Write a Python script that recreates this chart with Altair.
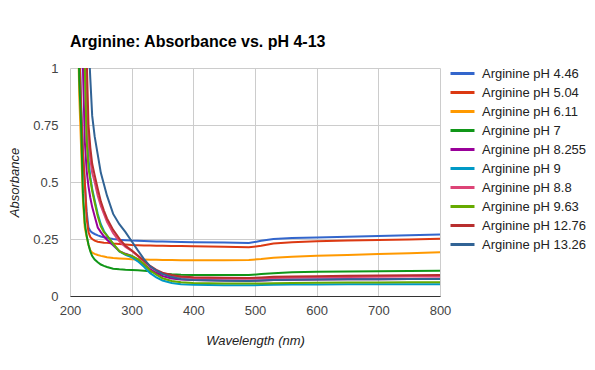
import altair as alt
import pandas as pd

wavelength = [210, 215, 218, 221, 224, 227, 230, 233, 236, 240, 245, 250, 255, 260,
              270, 280, 290, 300, 310, 320, 330, 340, 350, 365, 380, 400, 450, 490,
              510, 530, 560, 600, 650, 700, 750, 800]

series_names = ["Arginine pH 4.46", "Arginine pH 5.04", "Arginine pH 6.11", "Arginine pH 7",
                "Arginine pH 8.255", "Arginine pH 9", "Arginine pH 8.8", "Arginine pH 9.63",
                "Arginine pH 12.76", "Arginine pH 13.26"]

ph_4_46 = [2.1, 1.15, 0.85, 0.64, 0.5, 0.37, 0.3, 0.285, 0.278, 0.272, 0.266, 0.261, 0.258, 0.255,
           0.25, 0.247, 0.245, 0.243, 0.242, 0.241, 0.24, 0.239, 0.239, 0.238, 0.237, 0.236, 0.235, 0.232,
           0.242, 0.25, 0.254, 0.257, 0.26, 0.263, 0.266, 0.27]
ph_5_04 = [2.0, 1.1, 0.82, 0.62, 0.5, 0.34, 0.28, 0.258, 0.25, 0.243, 0.238, 0.236, 0.234, 0.233,
           0.23, 0.228, 0.226, 0.224, 0.223, 0.222, 0.221, 0.22, 0.22, 0.219, 0.219, 0.218, 0.216, 0.214,
           0.22, 0.23, 0.236, 0.24, 0.243, 0.246, 0.248, 0.251]
ph_6_11 = [1.6, 0.88, 0.65, 0.42, 0.3, 0.26, 0.225, 0.2, 0.19, 0.185, 0.18, 0.176, 0.173, 0.17,
           0.167, 0.165, 0.163, 0.161, 0.16, 0.16, 0.159, 0.159, 0.158, 0.158, 0.157, 0.157, 0.157, 0.158,
           0.162, 0.168, 0.172, 0.176, 0.18, 0.184, 0.188, 0.192]
ph_7 = [1.7, 0.95, 0.75, 0.45, 0.32, 0.265, 0.225, 0.195, 0.175, 0.16, 0.148, 0.138, 0.132, 0.127,
        0.12, 0.117, 0.115, 0.114, 0.113, 0.111, 0.108, 0.102, 0.098, 0.095, 0.093, 0.092, 0.092, 0.092,
        0.096, 0.1, 0.104, 0.106, 0.108, 0.109, 0.11, 0.111]
ph_8_255 = [3.0, 2.0, 1.4, 1.0, 0.68, 0.55, 0.48, 0.43, 0.39, 0.35, 0.3, 0.28, 0.262, 0.247,
            0.222, 0.197, 0.185, 0.176, 0.16, 0.138, 0.118, 0.1, 0.088, 0.077, 0.072, 0.07, 0.068, 0.067,
            0.068, 0.07, 0.071, 0.072, 0.073, 0.074, 0.075, 0.076]
ph_9 = [3.2, 2.3, 1.7, 1.3, 1.05, 0.75, 0.6, 0.52, 0.47, 0.42, 0.36, 0.315, 0.285, 0.265,
        0.228, 0.195, 0.18, 0.17, 0.152, 0.128, 0.1, 0.082, 0.068, 0.057, 0.052, 0.049, 0.047, 0.047,
        0.048, 0.049, 0.05, 0.05, 0.051, 0.051, 0.052, 0.052]
ph_8_8 = [3.5, 2.7, 2.0, 1.5, 1.15, 0.8, 0.68, 0.6, 0.54, 0.5, 0.44, 0.395, 0.36, 0.325,
          0.275, 0.24, 0.215, 0.198, 0.175, 0.15, 0.128, 0.11, 0.098, 0.088, 0.082, 0.079, 0.077, 0.076,
          0.077, 0.079, 0.08, 0.082, 0.083, 0.084, 0.085, 0.085]
ph_9_63 = [3.2, 2.3, 1.7, 1.25, 1.0, 0.68, 0.56, 0.51, 0.46, 0.41, 0.35, 0.305, 0.28, 0.265,
           0.23, 0.197, 0.183, 0.176, 0.162, 0.14, 0.112, 0.094, 0.078, 0.066, 0.06, 0.057, 0.055, 0.055,
           0.055, 0.056, 0.057, 0.058, 0.059, 0.059, 0.06, 0.06]
ph_12_76 = [3.6, 2.8, 2.2, 1.7, 1.3, 1.05, 0.75, 0.65, 0.58, 0.53, 0.47, 0.415, 0.375, 0.34,
            0.29, 0.252, 0.22, 0.2, 0.178, 0.155, 0.132, 0.115, 0.102, 0.092, 0.086, 0.082, 0.08, 0.079,
            0.081, 0.084, 0.085, 0.087, 0.089, 0.09, 0.091, 0.092]
ph_13_26 = [4.0, 3.2, 2.6, 2.1, 1.7, 1.4, 1.12, 0.95, 0.79, 0.7, 0.62, 0.54, 0.49, 0.44,
            0.36, 0.315, 0.28, 0.24, 0.2, 0.162, 0.13, 0.112, 0.097, 0.083, 0.075, 0.07, 0.067, 0.066,
            0.068, 0.07, 0.071, 0.072, 0.073, 0.074, 0.075, 0.075]

series_values = [ph_4_46, ph_5_04, ph_6_11, ph_7, ph_8_255, ph_9, ph_8_8, ph_9_63, ph_12_76, ph_13_26]

colors = ["#3366cc", "#dc3912", "#ff9900", "#109618", "#990099", "#0099c6",
          "#dd4477", "#66aa00", "#b82e2e", "#316395"]

x_ticks = [200, 300, 400, 500, 600, 700, 800]
y_ticks = [0, 0.25, 0.5, 0.75, 1]

rows = []
for i, (name, vals) in enumerate(zip(series_names, series_values)):
    for w, a in zip(wavelength, vals):
        rows.append({"series": name, "idx": i, "wavelength": w, "absorbance": a})
df = pd.DataFrame(rows)

FONT = "Liberation Sans"

chart = alt.Chart(df).mark_line(clip=True, strokeWidth=2).encode(
    x=alt.X("wavelength:Q",
            scale=alt.Scale(domain=[200, 800], nice=False, zero=False),
            axis=alt.Axis(values=x_ticks, format="d", title="Wavelength (nm)",
                          grid=True, gridColor="#cccccc", ticks=False, labelFlush=False,
                          domainColor="#333333", domainWidth=1,
                          labelPadding=8, labelFontSize=13, labelColor="#444444",
                          titleFontSize=13, titleFontStyle="italic", titleFontWeight="normal",
                          titleColor="#222222", titleBaseline="alphabetic", titleY=48)),
    y=alt.Y("absorbance:Q",
            scale=alt.Scale(domain=[0, 1], nice=False),
            axis=alt.Axis(values=y_ticks, labelExpr="'' + datum.value", title="Absorbance",
                          grid=True, gridColor="#cccccc", ticks=False, domain=False,
                          labelFlush=False,
                          labelPadding=12, labelFontSize=13, labelColor="#444444",
                          titleFontSize=13, titleFontStyle="italic", titleFontWeight="normal",
                          titleColor="#222222", titleAngle=-90, titleBaseline="alphabetic",
                          titleAlign="center", titleX=-52, titleY=114)),
    color=alt.Color("series:N",
                    scale=alt.Scale(domain=series_names, range=colors),
                    sort=series_names,
                    legend=alt.Legend(title=None, orient="none", legendX=386, legendY=-1,
                                      symbolType="M-3,0H3", symbolSize=64, symbolStrokeWidth=3,
                                      labelFontSize=13, labelColor="#222222", labelOffset=13,
                                      rowPadding=5)),
    order=alt.Order("idx:Q"),
).properties(
    width=370,
    height=228,
    title=alt.TitleParams("Arginine: Absorbance vs. pH 4-13", anchor="start", frame="group",
                          fontSize=16, fontWeight="bold", color="#000000", offset=12),
    autosize=alt.AutoSizeParams(type="none"),
    padding={"left": 62, "top": 60, "right": 147, "bottom": 66},
).configure(
    font=FONT,
).configure_view(
    stroke=None,
)

chart.save("out.html", embed_options={"renderer": "svg", "actions": False})
